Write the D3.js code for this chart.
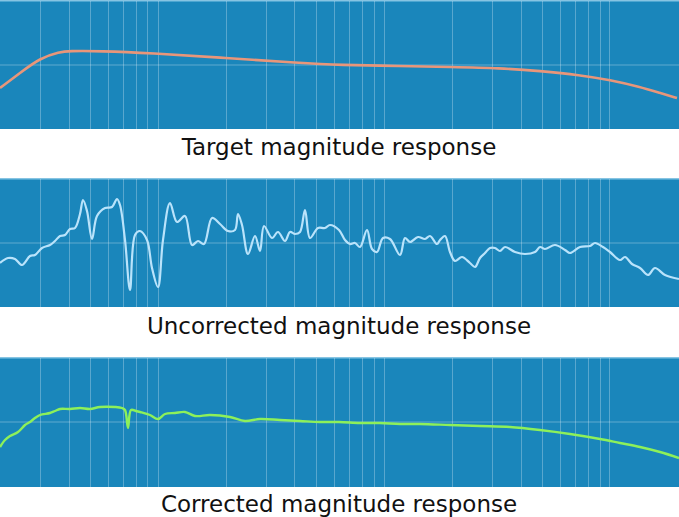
<!DOCTYPE html>
<html><head><meta charset="utf-8">
<script src="https://cdn.jsdelivr.net/npm/d3@7"></script>
<style>body{margin:0;background:#fff}</style></head>
<body><svg id="c" width="679" height="517"></svg>
<script>
const titles = ["Target magnitude response","Uncorrected magnitude response","Corrected magnitude response"];
const gridX = [40,69,90,108,123,136,147,158,226,266,294,316,334,349,362,374,384,452,492,521,542,560,575,588,600,609];
const targetX = [0,20,40,60,68,100,150,226,300,340,400,450,500,540,580,610,640,660,677];
const targetY = [-23,-8,7,13,14,14,12,7,2,0,-1,-2,-3,-6,-10,-15,-22,-28,-33];
const uncorrX = [0,8,15,22,30,35,42,50,55,60,65,70,75,80,83,87,92,97,105,112,117,120,125,130,135,140,147,152,158,163,170,177,185,192,198,204,212,220,228,235,238,242,248,255,260,264,272,278,285,290,295,300,305,310,318,325,330,339,345,350,355,360,367,372,377,383,390,400,405,410,418,425,430,437,440,445,450,455,462,470,475,480,485,490,495,500,505,515,525,535,540,545,555,565,570,580,590,595,603,610,620,625,632,640,648,655,665,679];
const uncorrY = [-20,-15,-16,-22,-13,-12,-5,-2,2,7,8,14,15,29,43,32,4,27,35,36,44,38,3,-47,8,12,3,-25,-44,3,40,21,27,-2,2,-1,25,19,12,13,29,18,-11,7,-8,17,5,11,2,11,9,11,33,5,15,15,18,13,3,-1,0,-4,13,-6,-9,5,4,-12,5,1,6,4,7,-1,3,7,-9,-18,-14,-20,-24,-15,-10,-5,-5,-8,-4,-9,-11,-9,-4,-6,-2,-7,-10,-4,-3,0,-4,-9,-17,-14,-21,-25,-32,-25,-32,-36];
const corrX = [0,5,10,18,25,30,35,40,50,55,60,70,80,90,100,115,122,125,128,131,136,140,150,158,165,175,185,195,210,230,245,260,280,300,320,339,360,380,400,420,450,480,510,540,570,600,620,640,660,679];
const corrY = [-25,-18,-14,-10,-3,0,4,7,9,11,13,13,14,13,15,15,14,12,-6,12,11,10,7,3,8,9,10,6,7,5,1,3,2,1,0,0,-1,-1,-2,-2,-3,-4,-5,-8,-12,-17,-21,-25,-30,-36];

const panels = [
  {top:1, bottom:129, mid:65, title:147, xs:targetX, ys:targetY, color:"#e8967a", curve:d3.curveBasis, w:2.6},
  {top:179, bottom:307, mid:243, title:326, xs:uncorrX, ys:uncorrY, color:"#b9e3fb", curve:d3.curveCatmullRom, w:2.2},
  {top:358, bottom:487, mid:422, title:504, xs:corrX, ys:corrY, color:"#8df05a", curve:d3.curveCatmullRom, w:2.4}
];
const svg = d3.select("#c");
const x = d3.scaleLinear().domain([0,679]).range([0,679]);
panels.forEach((p,i)=>{
  const y = d3.scaleLinear().domain([-(p.bottom-p.mid), 0, p.mid-p.top]).range([p.bottom,p.mid,p.top]);
  const g = svg.append("g");
  g.append("rect").attr("x",0).attr("y",p.top).attr("width",679).attr("height",p.bottom-p.top).attr("fill","#1a86bb");
  g.append("line").attr("x1",0).attr("x2",679).attr("y1",p.top).attr("y2",p.top).attr("stroke","#5fb0d8").attr("stroke-width",1.5);
  g.selectAll(".gx").data(gridX).enter().append("line")
    .attr("x1",d=>x(d)+0.5).attr("x2",d=>x(d)+0.5).attr("y1",p.top).attr("y2",p.bottom)
    .attr("stroke","rgba(255,255,255,0.28)").attr("stroke-width",1);
  g.append("line").attr("x1",0).attr("x2",679).attr("y1",y(0)).attr("y2",y(0))
    .attr("stroke","rgba(255,255,255,0.3)").attr("stroke-width",1);
  const pts = p.xs.map((v,k)=>[v,p.ys[k]]);
  g.append("path").datum(pts).attr("fill","none").attr("stroke",p.color).attr("stroke-width",p.w)
    .attr("stroke-linejoin","round")
    .attr("d",d3.line().x(d=>x(d[0])).y(d=>y(d[1])).curve(p.curve));
  svg.append("text").attr("x",339).attr("y",p.title+8).attr("text-anchor","middle")
    .attr("font-family","DejaVu Sans").attr("font-size",23).attr("fill","#111").text(titles[i]);
});
</script></body></html>
